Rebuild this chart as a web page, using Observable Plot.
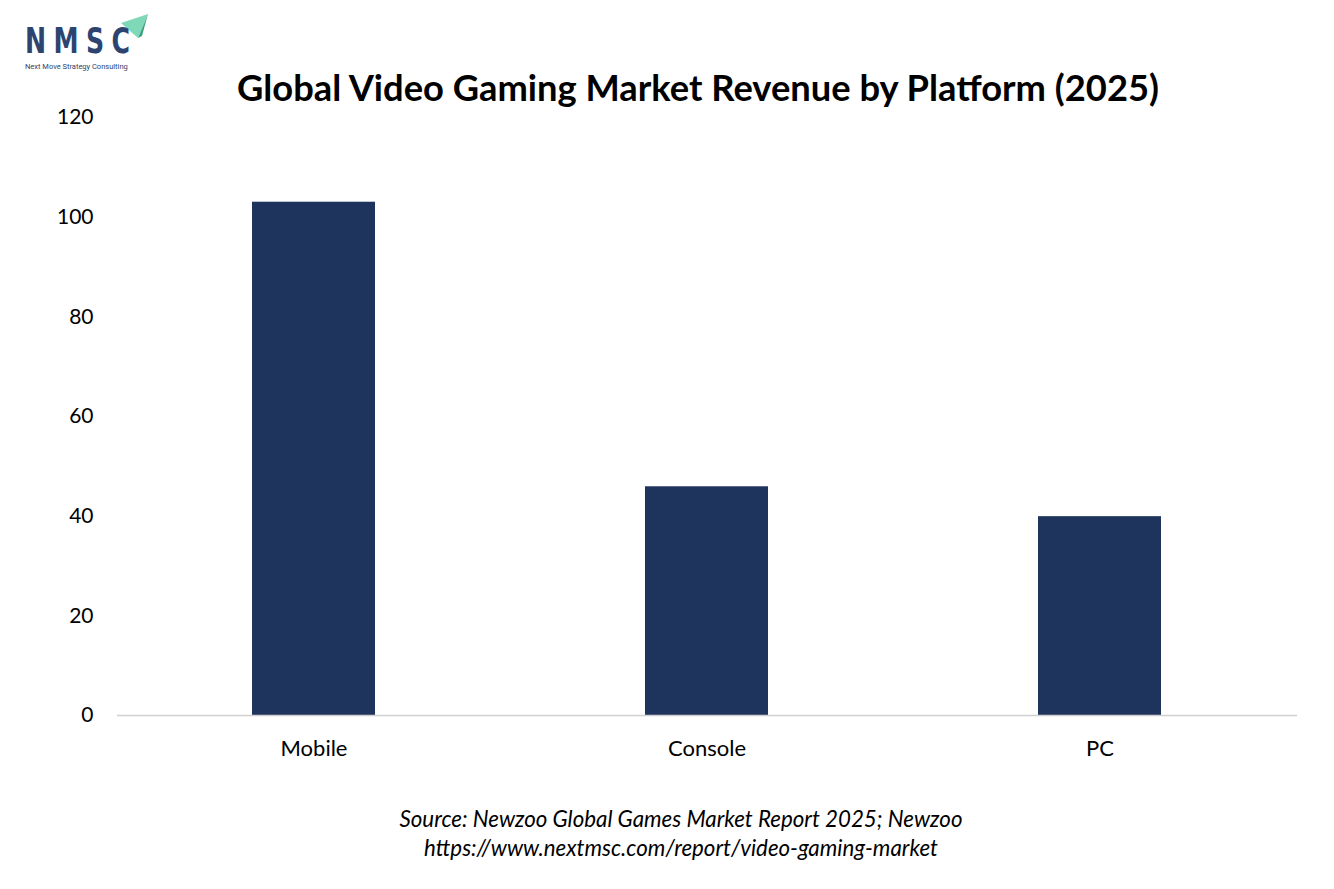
<!DOCTYPE html>
<html>
<head>
<meta charset="utf-8">
<script src="https://cdn.jsdelivr.net/npm/d3@7"></script>
<script src="https://cdn.jsdelivr.net/npm/@observablehq/plot@0.6"></script>
<style>
  html, body { margin: 0; padding: 0; background: #fff; }
  #wrap { position: relative; width: 1334px; height: 889px; overflow: hidden; font-family: Lato, "Open Sans", sans-serif; }
  #chart { position: absolute; left: 0; top: 0; }
  #title { position: absolute; left: 0; width: 1396px; top: 65px; text-align: center; font-size: 36.3px; font-weight: 700; color: #000; }
  #source { position: absolute; left: 0; width: 1362px; top: 804px; text-align: center; font-size: 22.3px; font-style: italic; color: #000; line-height: 29px; }
  #logo { position: absolute; left: 20px; top: 10px; }
</style>
</head>
<body>
<div id="wrap">
  <div id="chart"></div>
  <div id="title">Global Video Gaming Market Revenue by Platform (2025)</div>
  <div id="source">Source: Newzoo Global Games Market Report 2025; Newzoo<br>https://www.nextmsc.com/report/video-gaming-market</div>
  <svg id="logo" width="140" height="64" viewBox="0 0 140 64">
    <polygon points="101,13 128,4 118,28" fill="#7fd8b8"/>
    <polygon points="118,28 128,4 122,26" fill="#3fa382"/>
    <g transform="translate(5,43) scale(1,1.25)">
      <text x="0" y="0" font-family="DejaVu Sans Condensed, DejaVu Sans, sans-serif" font-weight="700" font-size="28" fill="#2d4470" textLength="105" lengthAdjust="spacing">NMSC</text>
    </g>
    <text x="5" y="59" font-family="Roboto, sans-serif" font-size="7.5" fill="#2d4470">Next Move Strategy Consulting</text>
  </svg>
</div>
<script>
const platforms = ["Mobile", "Console", "PC"];
const revenue = [103, 45.9, 39.9];
const yTicks = [0, 20, 40, 60, 80, 100, 120];

const data = platforms.map((p, i) => ({platform: p, value: revenue[i]}));

const chart = Plot.plot({
  width: 1334,
  height: 889,
  marginTop: 117,
  marginBottom: 174,
  marginLeft: 117,
  marginRight: 37,
  style: {fontFamily: "Lato, 'Open Sans', sans-serif", fontSize: "21px", color: "#000", background: "transparent"},
  x: {domain: platforms, paddingInner: 0.687, paddingOuter: 0.3435, label: null},
  y: {domain: [0, 120], ticks: yTicks, label: null},
  marks: [
    Plot.barY(data, {x: "platform", y: "value", fill: "#1f345c"}),
    Plot.ruleY([0], {stroke: "#d0d0d0", strokeWidth: 1.5}),
    Plot.axisX({tickSize: 0, tickPadding: 25, fontSize: 22, label: null}),
    Plot.axisY({ticks: yTicks, tickSize: 0, tickPadding: 24, fontSize: 21, label: null})
  ]
});
document.getElementById("chart").appendChild(chart);
</script>
</body>
</html>
